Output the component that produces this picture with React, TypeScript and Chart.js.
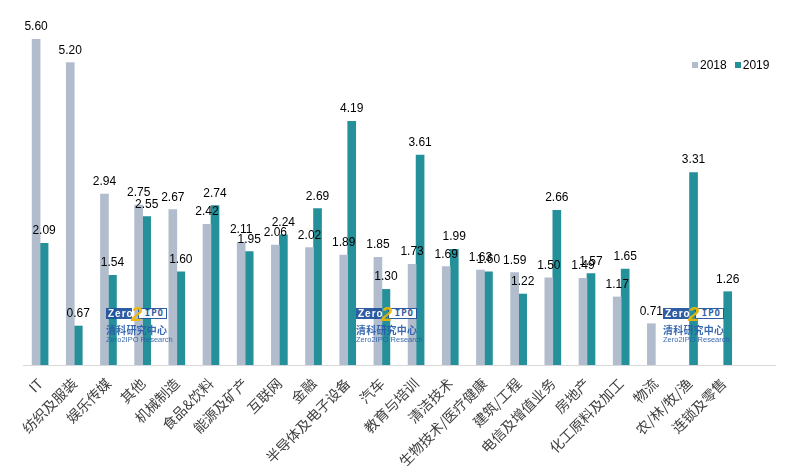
import React, { useEffect, useRef } from "react";
import { Chart, registerables } from "chart.js";

Chart.register(...registerables);

const categories = [
  "IT", "纺织及服装", "娱乐传媒", "其他", "机械制造", "食品&饮料", "能源及矿产", "互联网", "金融",
  "半导体及电子设备", "汽车", "教育与培训", "清洁技术", "生物技术/医疗健康", "建筑/工程",
  "电信及增值业务", "房地产", "化工原料及加工", "物流", "农/林/牧/渔", "连锁及零售", "",
];
const values2018: (number | null)[] = [
  5.6, 5.2, 2.94, 2.75, 2.67, 2.42, 2.11, 2.06, 2.02, 1.89, 1.85, 1.73, 1.69, 1.63, 1.59, 1.5, 1.49, 1.17, 0.71, null, null, null,
];
const values2019: (number | null)[] = [
  2.09, 0.67, 1.54, 2.55, 1.6, 2.74, 1.95, 2.24, 2.69, 4.19, 1.3, 3.61, 1.99, 1.6, 1.22, 2.66, 1.57, 1.65, null, 3.31, 1.26, null,
];
const seriesNames = ["2018", "2019"];
const colors = ["#b1bdcc", "#23909a"];

const valueLabels = {
  id: "valueLabels",
  afterDatasetsDraw(chart: any) {
    const ctx = chart.ctx;
    ctx.save();
    ctx.font = '12px "Liberation Sans", Arial, sans-serif';
    ctx.fillStyle = "#000";
    ctx.textAlign = "center";
    ctx.textBaseline = "alphabetic";
    chart.data.datasets.forEach((ds: any, i: number) => {
      const meta = chart.getDatasetMeta(i);
      meta.data.forEach((el: any, j: number) => {
        const v = ds.data[j];
        if (v === null || v === undefined) return;
        ctx.fillText(v.toFixed(2), el.x, el.y - 9);
      });
    });
    ctx.restore();
  },
};

function Logo({ left, top }: { left: number; top: number }) {
  const blue = "#1d4f9c";
  return (
    <div style={{ position: "absolute", left, top, width: 62, opacity: 0.92, fontFamily: "Arial, sans-serif", pointerEvents: "none" }}>
      <div style={{ position: "relative", height: 12 }}>
        <div style={{ position: "absolute", left: 0, top: 0, width: 26, height: 11, background: blue, color: "#fff", fontWeight: "bold", fontSize: 10, lineHeight: "11px", paddingLeft: 2, letterSpacing: 1, boxSizing: "border-box" }}>Zero</div>
        <div style={{ position: "absolute", left: 32, top: 0, width: 29, height: 11, border: `1.5px solid ${blue}`, background: "#fff", color: blue, fontWeight: "bold", fontSize: 9, lineHeight: "8px", textAlign: "right", paddingRight: 2, letterSpacing: 1, boxSizing: "border-box", fontFamily: '"DejaVu Sans Mono", monospace' }}>IPO</div>
        <div style={{ position: "absolute", left: 25, top: -4, color: "#f2b600", fontWeight: "bold", fontStyle: "italic", fontSize: 20, lineHeight: "20px" }}>2</div>
      </div>
      <div style={{ color: "#2a5caa", fontSize: 10, fontWeight: "bold", letterSpacing: 0.2, fontFamily: '"Noto Sans CJK SC", sans-serif', marginTop: 4, lineHeight: "11px", whiteSpace: "nowrap" }}>清科研究中心</div>
      <div style={{ color: "#2a5caa", fontSize: 7.5, lineHeight: "9px", whiteSpace: "nowrap" }}>Zero2IPO Research</div>
    </div>
  );
}

export default function App() {
  const ref = useRef<HTMLCanvasElement>(null);
  useEffect(() => {
    if (!ref.current) return;
    const chart = new Chart(ref.current, {
      type: "bar",
      data: {
        labels: categories,
        datasets: [
          { label: seriesNames[0], data: values2018, backgroundColor: colors[0], barThickness: 8, categoryPercentage: 0.56, grouped: true },
          { label: seriesNames[1], data: values2019, backgroundColor: colors[1], barThickness: 8, categoryPercentage: 0.56 },
        ],
      },
      options: {
        responsive: false,
        animation: false,
        layout: { padding: { left: 23, right: 19, top: 16, bottom: 0 } },
        plugins: { legend: { display: false }, tooltip: { enabled: false } },
        scales: {
          x: {
            grid: { display: false },
            border: { display: true, color: "#d9d9d9", width: 1 },
            ticks: {
              autoSkip: false,
              minRotation: 45,
              maxRotation: 45,
              color: "#404040",
              font: { family: '"Noto Sans CJK SC", sans-serif', size: 14 },
              padding: 2,
            },
            afterFit: (scale: any) => {
              scale.height = 101;
            },
          },
          y: { display: false, min: 0, max: 6 },
        },
      },
      plugins: [valueLabels],
    });
    return () => chart.destroy();
  }, []);

  return (
    <div style={{ position: "fixed", left: 0, top: 0, width: 794, height: 466, background: "#fff" }}>
      <canvas ref={ref} width={794} height={466} style={{ display: "block" }} />
      <div style={{ position: "absolute", left: 692, top: 58, fontFamily: '"Liberation Sans", Arial, sans-serif', fontSize: 12, display: "flex", alignItems: "center", lineHeight: "14px" }}>
        <span style={{ display: "inline-block", width: 6, height: 6, background: colors[0], marginRight: 2 }} />
        <span style={{ marginRight: 8 }}>{seriesNames[0]}</span>
        <span style={{ display: "inline-block", width: 6, height: 6, background: colors[1], marginRight: 2 }} />
        <span>{seriesNames[1]}</span>
      </div>
      <Logo left={106} top={308} />
      <Logo left={356} top={308} />
      <Logo left={663} top={308} />
    </div>
  );
}
